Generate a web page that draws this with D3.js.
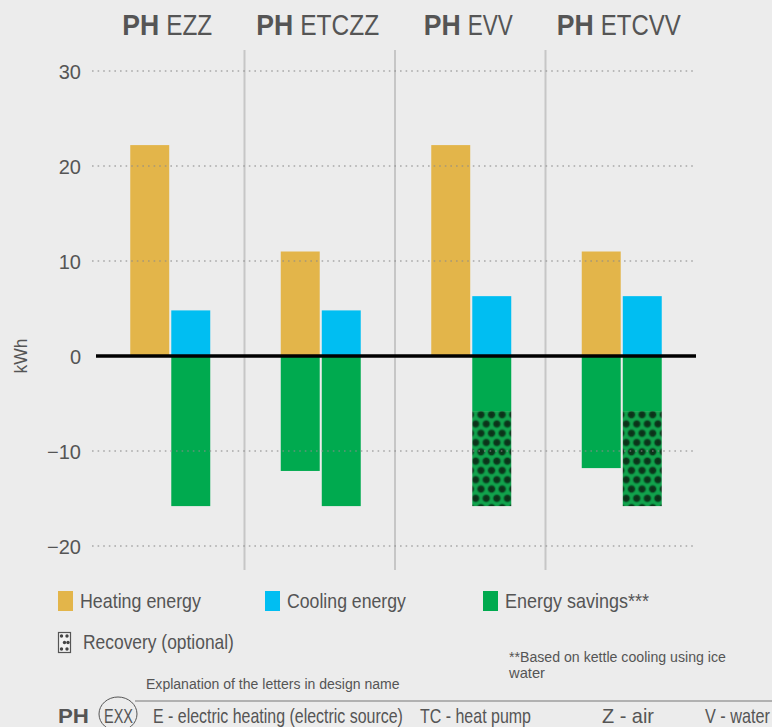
<!DOCTYPE html>
<html>
<head>
<meta charset="utf-8">
<script src="https://cdn.jsdelivr.net/npm/d3@7"></script>
<style>
  html, body { margin: 0; padding: 0; background: #ececec; }
  svg { display: block; }
  text { fill: #555; font-family: "Liberation Sans", Arial, sans-serif; }
</style>
</head>
<body>
<script>
// data
var groups = ['EZZ', 'ETCZZ', 'EVV', 'ETCVV'];
var heating = [22.2, 11, 22.2, 11];
var cooling = [4.8, 4.8, 6.3, 6.3];
var savingsHeat = [0, -12.1, 0, -11.8];
var savingsCool = [-15.8, -15.8, -5.8, -5.8];
var recoveryCool = [0, 0, -10, -10];   // stacked below savingsCool
var yTicks = [-20, -10, 0, 10, 20, 30];

var colors = { heat: '#e3b54a', cool: '#00bef2', save: '#00aa4f' };

var W = 772, H = 727;
var svg = d3.select('body').append('svg')
  .attr('width', W)
  .attr('height', H);

var x0 = d3.scaleBand().domain(groups).range([94, 696]);
var x1 = d3.scaleBand().domain(['heat', 'cool']).range([0, 80]).paddingInner(0.05);
var y = d3.scaleLinear().domain([-20, 30]).range([546, 71]);

function gx(g) { return x0(g) + (x0.bandwidth() - 80) / 2 + 1; }

// condensed look: squeeze text horizontally to the width it has in the original
function narrow(sel, len) {
  sel.each(function(d, i) {
    var t = d3.select(this);
    var L = typeof len === 'function' ? len(d, i) : len;
    var w = this.getComputedTextLength();
    var tx = +t.attr('x') || 0, ty = +t.attr('y') || 0;
    t.attr('x', 0).attr('y', 0)
      .attr('transform', 'translate(' + tx + ',' + ty + ') scale(' + (L / w) + ',1)');
  });
}

// pattern for recovery
var defs = svg.append('defs');
var rg = defs.append('radialGradient').attr('id', 'dot');
rg.append('stop').attr('offset', '0%').attr('stop-color', '#0a2e17');
rg.append('stop').attr('offset', '55%').attr('stop-color', '#0d3a1d');
rg.append('stop').attr('offset', '100%').attr('stop-color', colors.save).attr('stop-opacity', 0);

var pat = defs.append('pattern')
  .attr('id', 'recovery')
  .attr('patternUnits', 'userSpaceOnUse')
  .attr('x', 2).attr('y', 410)
  .attr('width', 10.6)
  .attr('height', 18.6);
pat.append('rect').attr('width', 10.6).attr('height', 18.6).attr('fill', '#13a24c');
[[5.3, 4.65], [0, 13.95], [10.6, 13.95], [0, -4.65], [10.6, -4.65], [5.3, 23.25]].forEach(function(c) {
  pat.append('circle').attr('cx', c[0]).attr('cy', c[1]).attr('r', 5.2).attr('fill', 'url(#dot)');
});

// separators
svg.selectAll('.sep')
  .data(groups.slice(1))
  .enter().append('line')
  .attr('x1', function(d) { return x0(d); })
  .attr('x2', function(d) { return x0(d); })
  .attr('y1', 50).attr('y2', 570)
  .attr('stroke', '#c6c6c6')
  .attr('stroke-width', 2);

// bars
var g = svg.selectAll('.grp')
  .data(groups)
  .enter().append('g')
  .attr('transform', function(d) { return 'translate(' + gx(d) + ',0)'; });

function bar(sel, key, vals, fill, base) {
  sel.append('rect')
    .attr('x', x1(key))
    .attr('width', x1.bandwidth())
    .attr('y', function(d, i) {
      var b = base ? base[i] : 0;
      return y(Math.max(b, b + vals[i]));
    })
    .attr('height', function(d, i) {
      var b = base ? base[i] : 0;
      return Math.abs(y(b + vals[i]) - y(b));
    })
    .attr('fill', fill);
}
bar(g, 'heat', heating, colors.heat);
bar(g, 'cool', cooling, colors.cool);
bar(g, 'heat', savingsHeat, colors.save);
bar(g, 'cool', savingsCool, colors.save);
bar(g, 'cool', recoveryCool, 'url(#recovery)', savingsCool);

// gridlines
svg.selectAll('.grid')
  .data(yTicks.filter(function(d) { return d !== 0; }))
  .enter().append('line')
  .attr('x1', 92).attr('x2', 696)
  .attr('y1', function(d) { return y(d); })
  .attr('y2', function(d) { return y(d); })
  .attr('stroke', '#8a8a8a')
  .attr('stroke-opacity', 0.7)
  .attr('stroke-width', 1.6)
  .attr('stroke-dasharray', '1.6,4');

svg.append('line')
  .attr('x1', 96).attr('x2', 696)
  .attr('y1', y(0)).attr('y2', y(0))
  .attr('stroke', '#000')
  .attr('stroke-width', 3.5);

// y axis labels
var yAxis = d3.axisLeft(y).tickValues(yTicks).tickSize(0).tickPadding(0);
svg.append('g')
  .attr('transform', 'translate(81,0)')
  .call(yAxis)
  .call(function(a) {
    a.select('.domain').remove();
    a.selectAll('text')
      .attr('font-family', 'Liberation Sans, Arial, sans-serif')
      .attr('font-size', 20)
      .attr('fill', '#555')
      .attr('dy', '0.36em');
  });

svg.append('text')
  .attr('transform', 'translate(27,' + y(0) + ') rotate(-90)')
  .attr('text-anchor', 'middle')
  .attr('font-size', 19)
  .attr('textLength', 35)
  .attr('lengthAdjust', 'spacingAndGlyphs')
  .text('kWh');

// headers
var hdrLen = [46, 79, 45, 80];
var hdr = svg.selectAll('.hdr')
  .data(groups)
  .enter().append('g')
  .attr('transform', function(d) { return 'translate(' + (gx(d) + 37) + ',0)'; });
hdr.append('text')
  .attr('x', function(d, i) { return -(37 + 7 + hdrLen[i]) / 2; })
  .attr('y', 35)
  .attr('font-size', 29)
  .attr('font-weight', 'bold')
  .attr('fill', '#4e4e4e')
  .text('PH')
  .call(narrow, 37);
hdr.append('text')
  .attr('x', function(d, i) { return -(37 + 7 + hdrLen[i]) / 2 + 44; })
  .attr('y', 35)
  .attr('font-size', 30)
  .attr('fill', '#4e4e4e')
  .text(function(d) { return d; })
  .call(narrow, function(d, i) { return hdrLen[groups.indexOf(d)]; });

// legend
var legend = [
  { label: 'Heating energy', color: colors.heat, x: 58, len: 121 },
  { label: 'Cooling energy', color: colors.cool, x: 265, len: 119 },
  { label: 'Energy savings***', color: colors.save, x: 483, len: 144 }
];
var lg = svg.selectAll('.lg')
  .data(legend)
  .enter().append('g')
  .attr('transform', function(d) { return 'translate(' + d.x + ',591)'; });
lg.append('rect').attr('width', 15).attr('height', 20).attr('fill', function(d) { return d.color; });
lg.append('text')
  .attr('x', 22).attr('y', 17)
  .attr('font-size', 21)
  .text(function(d) { return d.label; })
  .call(narrow, function(d) { return d.len; });

var rec = svg.append('g').attr('transform', 'translate(58,632)');
rec.append('rect').attr('x', 0.5).attr('y', 0.5).attr('width', 12).attr('height', 20)
  .attr('fill', '#f2f2f2').attr('stroke', '#555').attr('stroke-width', 1.2);
[[3.5, 4], [9, 4], [6.5, 10.5], [10, 10.5], [3.5, 17], [9, 17]].forEach(function(c) {
  rec.append('circle').attr('cx', c[0]).attr('cy', c[1]).attr('r', 1.7).attr('fill', '#444');
});
rec.append('text')
  .attr('x', 25).attr('y', 17)
  .attr('font-size', 21)
  .text('Recovery (optional)')
  .call(narrow, 151);

// notes
svg.append('text')
  .attr('x', 509).attr('y', 662)
  .attr('font-size', 14)
  .text('**Based on kettle cooling using ice')
  .call(narrow, 217);
svg.append('text')
  .attr('x', 509).attr('y', 678)
  .attr('font-size', 14)
  .text('water')
  .call(narrow, 36);

svg.append('text')
  .attr('x', 146).attr('y', 689)
  .attr('font-size', 15)
  .text('Explanation of the letters in design name')
  .call(narrow, 254);

svg.append('line')
  .attr('x1', 135).attr('x2', W)
  .attr('y1', 701).attr('y2', 701)
  .attr('stroke', '#777')
  .attr('stroke-width', 1);

// bottom row
svg.append('text')
  .attr('x', 58).attr('y', 723)
  .attr('font-weight', 'bold')
  .attr('font-size', 21)
  .attr('fill', '#4e4e4e')
  .text('PH')
  .call(narrow, 31);
svg.append('ellipse')
  .attr('cx', 118).attr('cy', 714).attr('rx', 19).attr('ry', 17)
  .attr('fill', 'none').attr('stroke', '#555').attr('stroke-width', 1);

var bottom = [
  { t: 'EXX', x: 104, len: 29 },
  { t: 'E - electric heating (electric source)', x: 153, len: 250 },
  { t: 'TC - heat pump', x: 420, len: 111 },
  { t: 'Z - air', x: 602, len: 52 },
  { t: 'V - water', x: 705, len: 65 }
];
svg.selectAll('.bt')
  .data(bottom)
  .enter().append('text')
  .attr('x', function(d) { return d.x; })
  .attr('y', 723)
  .attr('font-size', 20)
  .text(function(d) { return d.t; })
  .call(narrow, function(d) { return d.len; });
</script>
</body>
</html>
